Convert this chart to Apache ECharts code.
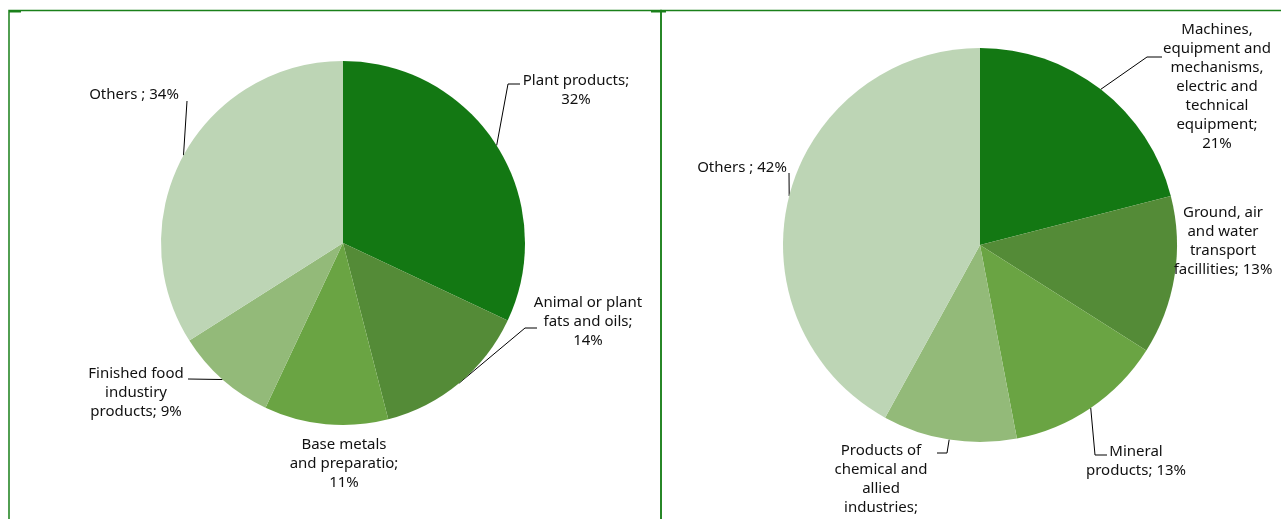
<!DOCTYPE html>
<html>
<head>
<meta charset="utf-8">
<script src="https://cdn.jsdelivr.net/npm/echarts@6/dist/echarts.min.js"></script>
<style>
html,body{margin:0;padding:0;background:#fff;}
#chart{width:1281px;height:519px;}
</style>
</head>
<body>
<div id="chart"></div>
<script>
// ---- data ----
const leftNames = ["Plant products;\n", "Animal or plant\nfats and oils;\n", "Base metals\nand preparatio;\n", "Finished food\nindustiry\nproducts; ", "Others ; "];
const leftValues = [32, 14, 11, 9, 34];
const rightNames = ["Machines,\nequipment and\nmechanisms,\nelectric and\ntechnical\nequipment;\n", "Ground, air\nand water\ntransport\nfacillities; ", "Mineral\nproducts; ", "Products of\nchemical and\nallied\nindustries;\n", "Others ; "];
const rightValues = [21, 13, 13, 11, 42];
const sliceColors = ["#137813", "#548B37", "#6AA443", "#93BA79", "#BDD5B5"];

// ---- label layout (positions of label text and line bends) ----
const leftLayout = [
  {x: 576, y: 90, line: [[508, 84], [520, 84]]},
  {x: 588, y: 322, line: [[525, 328], [537, 328]]},
  {x: 344, y: 464, line: null},
  {x: 136, y: 393, line: [[188, 379], [188, 379]]},
  {x: 134, y: 95, line: [[187, 101], [187, 101]]}
];
const rightLayout = [
  {x: 1217, y: 87, line: [[1147, 57], [1162, 57]]},
  {x: 1223, y: 241, line: null},
  {x: 1136, y: 461, line: [[1095, 455], [1107, 455]]},
  {x: 881, y: 489, line: [[947, 453], [937, 453]]},
  {x: 742, y: 168, line: [[789, 173], [789, 173]]}
];

function makeData(names, values, layout) {
  return names.map((n, i) => ({
    name: n,
    value: values[i],
    itemStyle: {color: sliceColors[i]},
    labelLine: {show: layout[i].line !== null}
  }));
}

function layoutFn(layout) {
  return function (params) {
    const L = layout[params.dataIndex];
    const out = {x: L.x, y: L.y, align: 'center', verticalAlign: 'middle'};
    if (L.line && params.labelLinePoints) {
      out.labelLinePoints = [params.labelLinePoints[0], L.line[0], L.line[1]];
    }
    return out;
  };
}

const labelStyle = {
  show: true,
  position: 'outside',
  formatter: p => p.name + p.value + '%',
  fontFamily: 'Noto Sans',
  fontSize: 15,
  lineHeight: 19,
  color: '#111',
  align: 'center'
};

function pieSeries(names, values, layout, center, radius) {
  return {
    type: 'pie',
    center: center,
    radius: radius,
    startAngle: 90,
    clockwise: true,
    avoidLabelOverlap: false,
    animation: false,
    silent: true,
    itemStyle: {borderWidth: 0},
    label: labelStyle,
    labelLine: {show: true, length: 10, length2: 10, lineStyle: {color: '#000', width: 1}},
    labelLayout: layoutFn(layout),
    data: makeData(names, values, layout)
  };
}

const frameColor = '#1a801a';
const chart = echarts.init(document.getElementById('chart'), null, {renderer: 'canvas'});
chart.setOption({
  backgroundColor: '#fff',
  animation: false,
  graphic: [
    {type: 'rect', shape: {x: 9, y: 10.5, width: 652, height: 540}, style: {fill: null, stroke: frameColor, lineWidth: 1.5}, silent: true},
    {type: 'rect', shape: {x: 661, y: 10.5, width: 640, height: 540}, style: {fill: null, stroke: frameColor, lineWidth: 1.5}, silent: true},
    {type: 'rect', shape: {x: 9, y: 10, width: 12, height: 2.5}, style: {fill: frameColor}, silent: true},
    {type: 'rect', shape: {x: 651, y: 10, width: 15, height: 2.5}, style: {fill: frameColor}, silent: true}
  ],
  series: [
    pieSeries(leftNames, leftValues, leftLayout, [343, 243], 182),
    pieSeries(rightNames, rightValues, rightLayout, [980, 245], 197)
  ]
});
</script>
</body>
</html>
